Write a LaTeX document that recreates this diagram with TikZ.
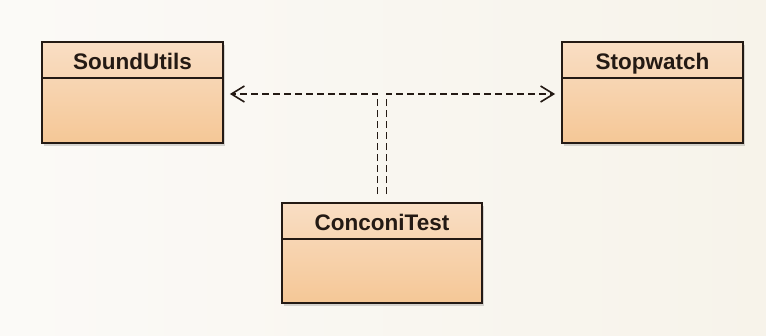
\documentclass[tikz,border=0pt]{standalone}
\usepackage{fontspec}
\setmainfont{Liberation Sans}
\usetikzlibrary{arrows.meta,shadows,calc}
\definecolor{bgA}{HTML}{FBFAF7}
\definecolor{bgB}{HTML}{F7F3EA}
\definecolor{boxTop}{HTML}{F9DEC4}
\definecolor{boxBot}{HTML}{F5C796}
\definecolor{edge}{HTML}{241A14}
\tikzset{
  cls/.style={draw=edge, line width=1.8pt, rectangle, minimum width=181pt, minimum height=101pt,
    top color=boxTop, bottom color=boxBot, inner sep=0pt,
    drop shadow={shadow xshift=2pt, shadow yshift=-3pt, opacity=0.25, fill=black!60}},
  clsname/.style={anchor=base, font=\bfseries\fontsize{22.5}{25}\selectfont, text=edge},
  dep/.style={draw=edge, line width=1.6pt, dash pattern=on 7pt off 4pt,
    -{Straight Barb[length=13pt,width=16pt,line width=1.6pt]}, shorten <=8pt, shorten >=6pt}
}
\begin{document}
\begin{tikzpicture}[x=1pt,y=-1pt]
\useasboundingbox (0,0) rectangle (766,336);
\shade[left color=bgA, right color=bgB] (0,0) rectangle (766,336);
\node[cls] (s) at (132.5,92.5) {};
\node[cls] (w) at (652.5,92.5) {};
\node[cls, minimum width=200pt, minimum height=100pt] (c) at (382,253) {};
\draw[edge, line width=1.6pt] (s.west |- 0,78) -- (s.east |- 0,78);
\draw[edge, line width=1.6pt] (w.west |- 0,78) -- (w.east |- 0,78);
\draw[edge, line width=1.6pt] (c.west |- 0,239) -- (c.east |- 0,239);
\node[clsname] (sn) at (132.5,70) {SoundUtils};
\node[clsname] (wn) at (652.5,70) {Stopwatch};
\node[clsname] (cn) at (382,231) {ConconiTest};
\coordinate (cl) at ($(c.north)+(-4.5,0)$);
\coordinate (cr) at ($(c.north)+(4.5,0)$);
\draw[dep] (cl) |- (s.east |- 0,94);
\draw[dep] (cr) |- (w.west |- 0,94);
\end{tikzpicture}
\end{document}
